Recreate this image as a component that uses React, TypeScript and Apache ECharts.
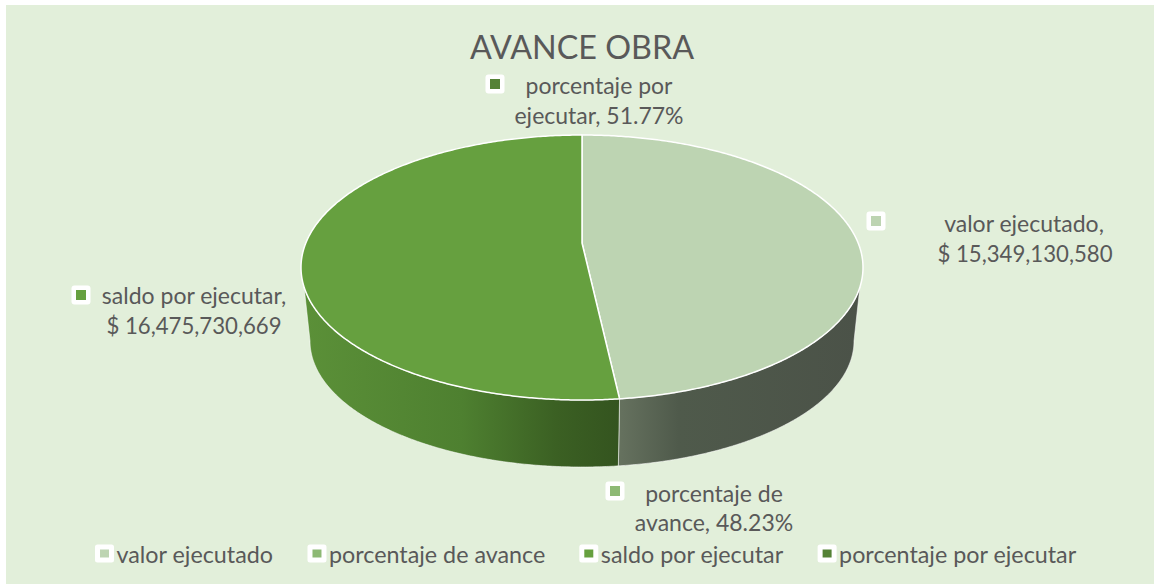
import React, { useEffect, useRef } from "react";
import * as echarts from "echarts";

const titleText = "AVANCE OBRA";
const categories = ["valor ejecutado", "porcentaje de avance", "saldo por ejecutar", "porcentaje por ejecutar"];
const values = [15349130580, 0.4823, 16475730669, 0.5177];
const colors = ["#BDD4B2", "#8DB974", "#66A03F", "#548235"];

const FONT = "Lato";
const TEXT = "#595959";
const BG = "#E2EFDA";

// geometry of the perspective pie
const CX = 582;
const TOP = { cy: 267.5, rx: 281, ry: 132.5 };
const BOT = { cy: 341, rx: 272, ry: 126 };
const K = -0.185;
const total = values.reduce((a, b) => a + b, 0);

const rad = (d: number) => (d * Math.PI) / 180;
// projective map of the pie's circle: angle clockwise from top -> angle on the drawn ellipse
function project(theta: number) {
  if (theta >= 360) return 360;
  const u = Math.sin(rad(theta));
  const v = -Math.cos(rad(theta));
  const d = 1 + K * v;
  const u2 = (u * Math.sqrt(1 - K * K)) / d;
  const v2 = (v + K) / d;
  let phi = (Math.atan2(u2, -v2) * 180) / Math.PI;
  if (phi < 0) phi += 360;
  return phi;
}
const onEllipse = (e: typeof TOP, phi: number) => [CX + e.rx * Math.sin(rad(phi)), e.cy - e.ry * Math.cos(rad(phi))];
function arc(e: typeof TOP, p0: number, p1: number) {
  const n = Math.max(2, Math.ceil(Math.abs(p1 - p0) * 2));
  const pts: number[][] = [];
  for (let i = 0; i <= n; i++) pts.push(onEllipse(e, p0 + ((p1 - p0) * i) / n));
  return pts;
}

const wallFills = [
  new echarts.graphic.LinearGradient(0, 0, 1, 0, [
    { offset: 0, color: "#66725F" },
    { offset: 0.25, color: "#4F5A4B" },
    { offset: 1, color: "#4B5248" },
  ]),
  null,
  new echarts.graphic.LinearGradient(0, 0, 1, 0, [
    { offset: 0, color: "#5B9038" },
    { offset: 0.5, color: "#4E8030" },
    { offset: 0.8, color: "#3B6023" },
    { offset: 1, color: "#34541F" },
  ]),
  null,
];

function renderSlice(params: any) {
  const i = params.seriesIndex;
  const start = values.slice(0, i).reduce((a, b) => a + b, 0);
  const a0 = (start / total) * 360;
  const a1 = ((start + values[i]) / total) * 360;
  if (a1 - a0 < 0.01) return { type: "group", children: [] };
  const p0 = project(a0);
  const p1 = project(a1);
  const children: any[] = [];
  const wt0 = Math.max(p0, 98.5);
  const wt1 = Math.min(p1, 261.5);
  const wb0 = Math.max(p0, 90);
  const wb1 = Math.min(p1, 270);
  if (wb1 > wb0) {
    children.push({
      type: "polygon",
      shape: { points: [...arc(TOP, wt0, wt1), ...arc(BOT, wb1, wb0)] },
      style: { fill: wallFills[i] || colors[i], stroke: "rgba(255,255,255,0.55)", lineWidth: 1 },
    });
  }
  children.push({
    type: "polygon",
    shape: { points: [[CX, TOP.cy + K * TOP.ry], ...arc(TOP, p0, p1)] },
    style: { fill: colors[i], stroke: "#ffffff", lineWidth: 1.5, lineJoin: "round" },
  });
  return { type: "group", children };
}

const money = (v: number) => "$ " + v.toLocaleString("en-US");
const pct = (v: number) => (v * 100).toFixed(2) + "%";
const labelText = (i: number) => `${categories[i]}, ${i % 2 === 0 ? money(values[i]) : pct(values[i])}`;
function wrap(i: number, n: number) {
  const w = labelText(i).split(" ");
  return [w.slice(0, n).join(" "), w.slice(n).join(" ")];
}

function dataLabel(i: number, n: number, mx: number, my: number, x1: number, y1: number, x2: number, y2: number) {
  const lines = wrap(i, n);
  const font = { fontFamily: FONT, fill: TEXT };
  const size2 = i % 2 === 0 ? 22.2 : 23;
  return [
    { type: "rect", shape: { x: mx - 9.5, y: my - 9.5, width: 19, height: 19, r: 3 }, style: { fill: "#ffffff" } },
    { type: "rect", shape: { x: mx - 5, y: my - 5, width: 10, height: 10 }, style: { fill: colors[i] } },
    { type: "text", x: x1, y: y1, style: { ...font, fontSize: 23, text: lines[0], align: "center", verticalAlign: "middle" } },
    { type: "text", x: x2, y: y2, style: { ...font, fontSize: size2, text: lines[1], align: "center", verticalAlign: "middle" } },
  ];
}

export default function App() {
  const ref = useRef<HTMLDivElement>(null);
  useEffect(() => {
    const chart = echarts.init(ref.current!, undefined, { renderer: "svg" });
    chart.setOption({
      animation: false,
      backgroundColor: "#ffffff",
      title: {
        text: titleText,
        left: 582,
        top: 30,
        textAlign: "center",
        padding: 0,
        textStyle: { fontFamily: FONT, fontSize: 32.3, fontWeight: "normal", color: TEXT },
      },
      legend: {
        left: 95,
        top: 542,
        padding: 0,
        itemWidth: 14,
        itemHeight: 13,
        itemGap: 34,
        selectedMode: false,
        textStyle: { fontFamily: FONT, fontSize: 23.3, color: TEXT },
        data: categories.map((name, i) => ({
          name,
          icon: "rect",
          itemStyle: { color: colors[i], borderColor: "#ffffff", borderWidth: 5, borderJoin: "round" },
        })),
      },
      graphic: [
        { type: "rect", z: -10, silent: true, shape: { x: 6, y: 5, width: 1148, height: 579 }, style: { fill: BG } },
        ...dataLabel(3, 2, 495, 84, 599, 85, 599, 115),
        ...dataLabel(0, 2, 876, 221, 1024, 223, 1025, 253),
        ...dataLabel(2, 3, 81, 295, 194, 295, 194, 325),
        ...dataLabel(1, 2, 615, 491, 714, 493, 714, 522),
      ],
      series: categories.map((name, i) => ({
        type: "custom",
        name,
        coordinateSystem: "none",
        silent: true,
        itemStyle: { color: colors[i] },
        data: [values[i]],
        renderItem: renderSlice,
      })),
    });
    return () => chart.dispose();
  }, []);
  return <div ref={ref} style={{ position: "fixed", left: 0, top: 0, width: 1154, height: 584 }} />;
}
